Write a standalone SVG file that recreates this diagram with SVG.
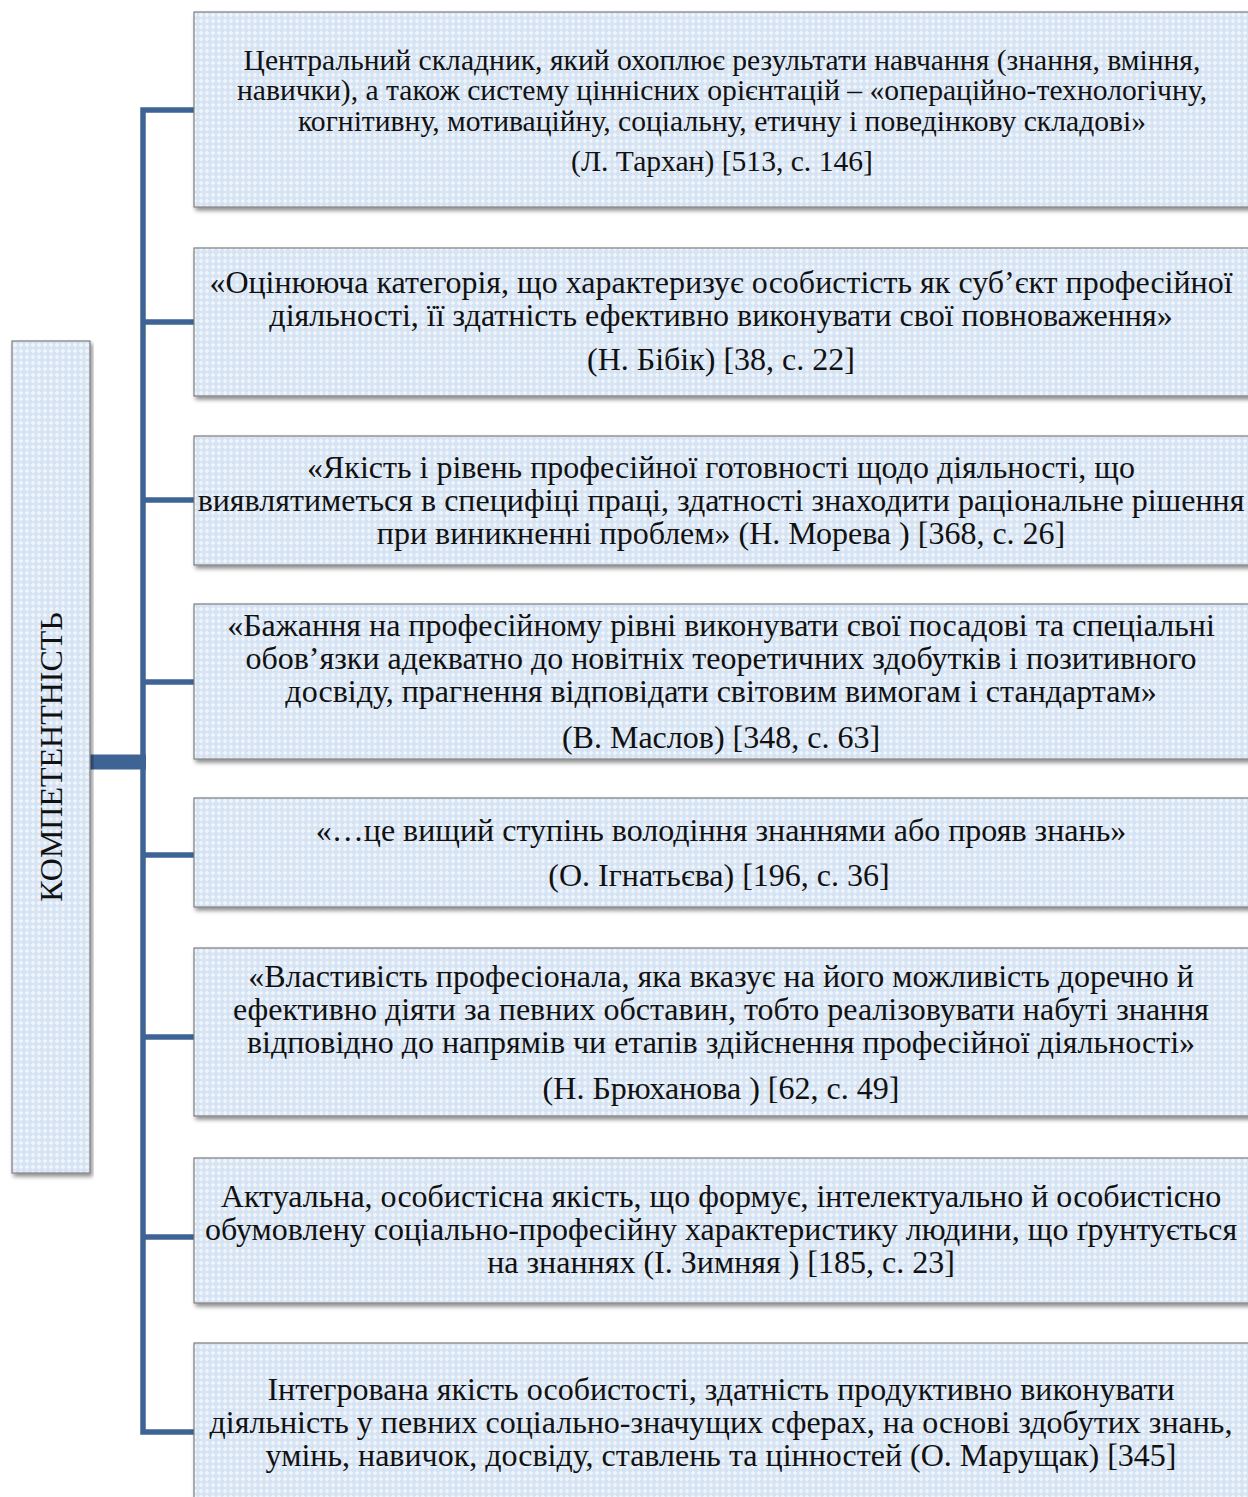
<svg xmlns="http://www.w3.org/2000/svg" width="1248" height="1497" viewBox="0 0 1248 1497">
<defs>
<pattern id="hatch" width="6" height="6" patternUnits="userSpaceOnUse">
<rect width="6" height="6" fill="#d6e3f3"/>
<path d="M3 0.6 L5.4 3 L3 5.4 L0.6 3 Z" fill="#f0f5fb"/>
</pattern>
<filter id="sh" x="-5%" y="-5%" width="110%" height="115%">
<feDropShadow dx="2" dy="3" stdDeviation="2" flood-color="#000" flood-opacity="0.45"/>
</filter>
</defs>
<style>
.box{fill:url(#hatch);stroke:#7f7f7f;stroke-width:1.2;filter:url(#sh)}
.t{font-family:"Liberation Serif","Times New Roman",serif;font-size:32px;fill:#111;text-anchor:middle}
.s{font-size:29.6px}
.c{stroke:#3e6496;fill:none}
</style>
<rect width="1248" height="1497" fill="#fff"/>
<g id="connectors">
<path class="c" stroke-width="5.5" d="M194 110 H143 V1432 H194"/>
<path class="c" stroke-width="5.5" d="M143 322 H194 M143 500 H194 M143 682 H194 M143 855 H194 M143 1037 H194 M143 1237 H194"/>
<path class="c" stroke-width="15" d="M90 762 H146"/>
</g>
<g id="root">
<rect class="box" x="12" y="341" width="78" height="832"/>
<text class="t" transform="translate(62,757) rotate(-90)">КОМПЕТЕНТНІСТЬ</text>
</g>
<g id="n1">
<rect class="box" x="194" y="12" width="1060" height="195"/>
<text class="t s" x="722" y="70">Центральний складник, який охоплює результати навчання (знання, вміння,</text>
<text class="t s" x="722" y="100">навички), а також систему ціннісних орієнтацій – «операційно-технологічну,</text>
<text class="t s" x="722" y="131">когнітивну, мотиваційну, соціальну, етичну і поведінкову складові»</text>
<text class="t s" x="722" y="171">(Л. Тархан) [513, с. 146]</text>
</g>
<g id="n2">
<rect class="box" x="194" y="248" width="1060" height="148"/>
<text class="t" x="721" y="293">«Оцінююча категорія, що характеризує особистість як суб’єкт професійної</text>
<text class="t" x="721" y="326">діяльності, її здатність ефективно виконувати свої повноваження»</text>
<text class="t" x="721" y="370">(Н. Бібік) [38, с. 22]</text>
</g>
<g id="n3">
<rect class="box" x="194" y="436" width="1060" height="129"/>
<text class="t" x="721" y="478">«Якість і рівень професійної готовності щодо діяльності, що</text>
<text class="t" x="721" y="511">виявлятиметься в специфіці праці, здатності знаходити раціональне рішення</text>
<text class="t" x="721" y="544">при виникненні проблем» (Н. Морева ) [368,  с. 26]</text>
</g>
<g id="n4">
<rect class="box" x="194" y="604" width="1060" height="155"/>
<text class="t" x="721" y="636">«Бажання на професійному рівні виконувати свої посадові та спеціальні</text>
<text class="t" x="721" y="669">обов’язки адекватно до новітніх теоретичних здобутків і позитивного</text>
<text class="t" x="721" y="702">досвіду, прагнення відповідати світовим вимогам і стандартам»</text>
<text class="t" x="721" y="748">(В. Маслов) [348, с. 63]</text>
</g>
<g id="n5">
<rect class="box" x="194" y="798" width="1060" height="109"/>
<text class="t" x="721" y="841">«…це вищий ступінь володіння знаннями або прояв знань»</text>
<text class="t" x="719" y="886">(О.  Ігнатьєва) [196, с. 36]</text>
</g>
<g id="n6">
<rect class="box" x="194" y="948" width="1060" height="168"/>
<text class="t" x="721" y="987">«Властивість професіонала, яка вказує на його можливість доречно й</text>
<text class="t" x="721" y="1020">ефективно діяти за певних обставин, тобто реалізовувати набуті знання</text>
<text class="t" x="721" y="1053">відповідно до напрямів чи етапів здійснення професійної діяльності»</text>
<text class="t" x="721" y="1099">(Н. Брюханова ) [62, с. 49]</text>
</g>
<g id="n7">
<rect class="box" x="194" y="1158" width="1060" height="145"/>
<text class="t" x="721" y="1207">Актуальна, особистісна якість, що формує, інтелектуально й особистісно</text>
<text class="t" x="721" y="1240">обумовлену соціально-професійну характеристику людини, що ґрунтується</text>
<text class="t" x="721" y="1273">на знаннях (І. Зимняя ) [185, с. 23]</text>
</g>
<g id="n8">
<rect class="box" x="194" y="1343" width="1060" height="170"/>
<text class="t" x="721" y="1400">Інтегрована якість особистості, здатність продуктивно виконувати</text>
<text class="t" x="721" y="1433">діяльність у певних соціально-значущих сферах, на основі здобутих знань,</text>
<text class="t" x="721" y="1466">умінь, навичок, досвіду, ставлень та цінностей (О. Марущак) [345]</text>
</g>
</svg>
